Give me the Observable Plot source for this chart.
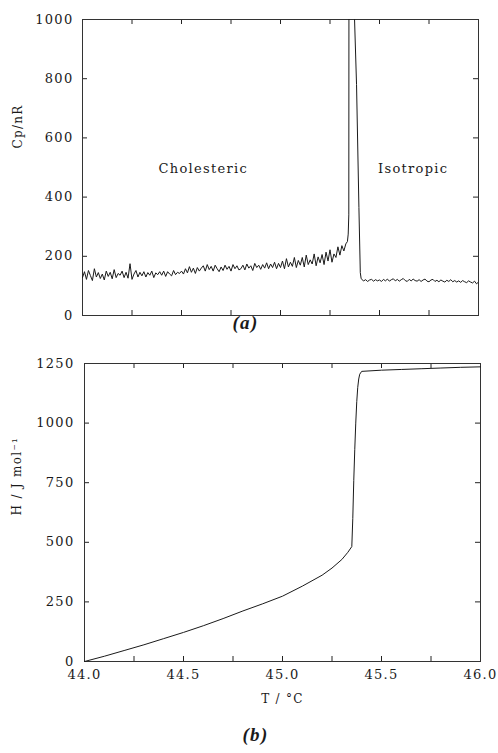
<!DOCTYPE html>
<html><head><meta charset="utf-8">
<script src="https://cdn.jsdelivr.net/npm/d3@7"></script>
<script src="https://cdn.jsdelivr.net/npm/@observablehq/plot@0.6"></script>
<style>
body{margin:0;background:#fff;width:498px;height:753px;overflow:hidden}
#chart svg{display:block}
</style></head><body><div id="chart"></div>
<script>
// ---- Panel (a): heat capacity Cp/nR vs T ----
const cpStart = 44.00, cpStep = 0.01;
const cpCholesteric = [
  128,148,122,152,135,118,158,130,145,125,
  140,120,150,132,146,124,155,128,142,136,
  150,128,146,126,175,122,140,152,130,146,
  134,148,130,145,136,150,128,144,138,148,
  136,150,132,148,140,134,152,138,146,142,
  150,140,158,144,165,146,160,142,162,150,
  160,168,150,172,155,166,150,170,158,148,
  164,152,170,156,166,150,172,158,168,154,
  158,170,154,174,160,168,152,176,162,170,
  156,172,160,178,158,174,162,180,158,176,
  162,184,158,192,164,180,166,196,162,186,
  170,196,164,204,172,188,174,208,168,198,
  178,206,172,214,184,222,180,208,196,232,
  204,236,218,242
];
const cpPeakT = [45.338,45.342,45.345,45.346,45.370,45.374,45.384,45.396,45.403,45.407];
const cpPeakV = [250,275,340,1400,1400,1000,780,365,145,126];
const isoStart = 45.41;
const cpIsotropic = [
  122,117,121,115,120,122,116,121,117,
  120,115,122,117,123,116,121,124,117,122,
  116,121,125,118,115,122,117,123,118,116,
  121,115,120,123,116,114,120,122,115,119,
  114,120,116,113,119,115,121,114,118,113,
  117,112,118,114,111,117,113,110,116,107,113
];
const phaseLabels = ["Cholesteric", "Isotropic"];
const phaseLabelT = [44.61, 45.67];
const phaseLabelCp = [497, 497];
const cpTicks = [0, 200, 400, 600, 800, 1000];

// ---- Panel (b): enthalpy H vs T ----
const hT = [44.0,44.1,44.2,44.3,44.4,44.5,44.6,44.7,44.8,44.9,45.0,45.1,45.2,45.25,45.3,45.33,45.35,45.355,45.36,45.365,45.37,45.375,45.38,45.385,45.39,45.4,45.5,45.6,45.7,45.8,45.9,46.0];
const hV = [0,22,46,70,96,122,150,180,212,242,274,316,362,392,428,458,482,600,760,890,1000,1090,1150,1185,1205,1217,1222,1225,1228,1231,1234,1236];
const hTicks = [0, 250, 500, 750, 1000, 1250];
const tTicks = [44.0, 44.5, 45.0, 45.5, 46.0];
const tMinorTicks = [44.0, 44.25, 44.5, 44.75, 45.0, 45.25, 45.5, 45.75, 46.0];

// build tables
const cpData = [];
cpCholesteric.forEach((v, i) => cpData.push({T: cpStart + i * cpStep, Cp: v}));
cpPeakT.forEach((t, i) => cpData.push({T: t, Cp: cpPeakV[i]}));
cpIsotropic.forEach((v, i) => cpData.push({T: isoStart + i * cpStep, Cp: v}));
const labels = phaseLabels.map((s, i) => ({s, T: phaseLabelT[i], Cp: phaseLabelCp[i]}));
const hData = hT.map((t, i) => ({T: t, H: hV[i]}));

const serif = "'DejaVu Serif', serif";
const ink = "#1a1a1a";
const TS = 5; // inward tick length

// inward tick marks on all four sides, drawn as short rules via insets
function innerTicks(xTicks, yTicks, fw, fh) {
  return [
    Plot.ruleX(xTicks, {x: d => d, insetTop: fh - TS, stroke: "#222"}),
    Plot.ruleX(xTicks, {x: d => d, insetBottom: fh - TS, stroke: "#222"}),
    Plot.ruleY(yTicks, {y: d => d, insetRight: fw - TS, stroke: "#222"}),
    Plot.ruleY(yTicks, {y: d => d, insetLeft: fw - TS, stroke: "#222"})
  ];
}

const p1 = Plot.plot({
  width: 498, height: 340,
  marginLeft: 82, marginRight: 20, marginTop: 19, marginBottom: 25,
  style: {fontFamily: serif, fontSize: "13px", color: ink, background: "#fff", letterSpacing: "1.3px"},
  x: {domain: [44, 46], axis: null},
  y: {domain: [0, 1000], axis: null},
  marks: [
    ...innerTicks(tMinorTicks, cpTicks, 396, 296),
    Plot.axisY(cpTicks, {anchor: "left", tickSize: 0, tickPadding: 9, tickFormat: d3.format("d"), label: null}),
    Plot.text(["Cp/nR"], {frameAnchor: "left", rotate: -90, dx: -64, dy: -19, fontSize: 12, fontFamily: serif, fill: ink, letterSpacing: "0px"}),
    Plot.frame({stroke: "#333"}),
    Plot.line(cpData, {x: "T", y: "Cp", stroke: ink, strokeWidth: 1, clip: true}),
    Plot.text(labels, {x: "T", y: "Cp", text: "s", fontSize: 13, fontFamily: serif, fill: ink}),
    Plot.text(["(a)"], {frameAnchor: "bottom", dx: -35, dy: 13, fontSize: 19, fontWeight: "bold", fontStyle: "italic", fontFamily: "'Liberation Serif', serif", fill: ink})
  ]
});

const p2 = Plot.plot({
  width: 498, height: 413,
  marginLeft: 84, marginRight: 18, marginTop: 23, marginBottom: 92,
  style: {fontFamily: serif, fontSize: "13px", color: ink, background: "#fff", letterSpacing: "1.3px"},
  x: {domain: [44, 46], axis: null},
  y: {domain: [0, 1250], axis: null},
  marks: [
    ...innerTicks(tMinorTicks, hTicks, 396, 298),
    Plot.axisX(tTicks, {anchor: "bottom", tickSize: 0, tickPadding: 8, tickFormat: d => d.toFixed(1), label: null}),
    Plot.axisY(hTicks, {anchor: "left", tickSize: 0, tickPadding: 10, tickFormat: d3.format("d"), label: null}),
    Plot.text(["T / °C"], {frameAnchor: "bottom", dy: 41, fontSize: 12, fontFamily: serif, fill: ink, letterSpacing: "3px"}),
    Plot.text(["H / J mol⁻¹"], {frameAnchor: "left", rotate: -90, dx: -67, dy: 3, fontSize: 12, fontFamily: serif, fill: ink, letterSpacing: "2px"}),
    Plot.frame({stroke: "#333"}),
    Plot.line(hData, {x: "T", y: "H", stroke: ink, strokeWidth: 1}),
    Plot.text(["(b)"], {frameAnchor: "bottom", dx: -27, dy: 79, fontSize: 19, fontWeight: "bold", fontStyle: "italic", fontFamily: "'Liberation Serif', serif", fill: ink})
  ]
});

const root = document.getElementById("chart");
root.appendChild(p1);
root.appendChild(p2);
</script></body></html>
